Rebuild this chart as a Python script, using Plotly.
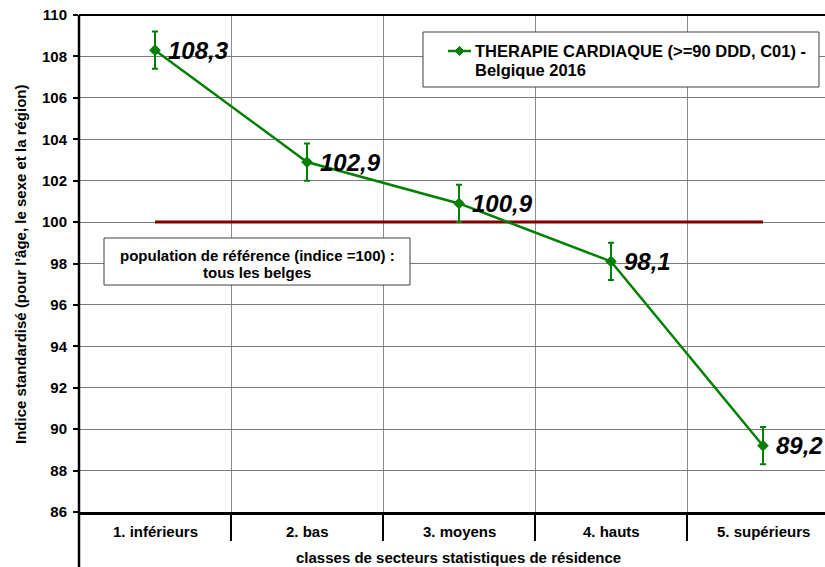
import plotly.graph_objects as go

categories = ["1. inférieurs", "2. bas", "3. moyens", "4. hauts", "5. supérieurs"]
values = [108.3, 102.9, 100.9, 98.1, 89.2]
errors = [0.9, 0.9, 0.9, 0.9, 0.9]
value_labels = ["108,3", "102,9", "100,9", "98,1", "89,2"]
reference_value = 100
y_ticks = list(range(86, 111, 2))
series_name_line1 = "THERAPIE CARDIAQUE (>=90 DDD, C01) -"
series_name_line2 = "Belgique 2016"
ref_text_line1 = "population de référence (indice =100) :"
ref_text_line2 = "tous les belges"
x_title = "classes de secteurs statistiques de résidence"
y_title = "Indice standardisé (pour l'âge, le sexe et la région)"

W, H = 825, 567
L, T, R_EDGE, B_EDGE = 79, 15, 825, 512
PW, PH = R_EDGE - L, B_EDGE - T
CAT_W = 152.0

def px(x):
    return (x - L) / PW

def py(y):
    return (B_EDGE - y) / PH

GREEN = "#008000"
FONT = "Liberation Sans, Arial, sans-serif"

xs = list(range(len(categories)))

fig = go.Figure()
fig.add_trace(go.Scatter(
    x=[xs[0], xs[-1]], y=[reference_value, reference_value],
    mode="lines", line=dict(color="#800000", width=3),
    hoverinfo="skip", showlegend=False))
fig.add_trace(go.Scatter(
    x=xs, y=values, mode="lines+markers",
    line=dict(color=GREEN, width=2.5),
    marker=dict(symbol="diamond", size=9, color=GREEN),
    error_y=dict(type="data", array=errors, visible=True, color=GREEN, thickness=2, width=3),
    name=series_name_line1 + " " + series_name_line2, showlegend=False))

anns = []
for i, (v, lab) in enumerate(zip(values, value_labels)):
    anns.append(dict(x=i, y=v, xref="x", yref="y", text=lab, showarrow=False,
                     xanchor="left", yanchor="middle", xshift=11,
                     font=dict(family=FONT, size=24, color="black", weight="bold", style="italic")))
for i, c in enumerate(categories):
    anns.append(dict(x=i, y=py(531), xref="x", yref="paper", text=c, showarrow=False,
                     xanchor="center", yanchor="middle",
                     font=dict(family=FONT, size=15, color="black", weight="bold")))
anns.append(dict(x=px(458), y=py(557), xref="paper", yref="paper", text=x_title, showarrow=False,
                 xanchor="center", yanchor="middle",
                 font=dict(family=FONT, size=15, color="black", weight="bold")))
anns.append(dict(x=px(20), y=py(264), xref="paper", yref="paper", text=y_title, showarrow=False,
                 textangle=-90, xanchor="center", yanchor="middle",
                 font=dict(family=FONT, size=15, color="black", weight="bold")))
# legend text
anns.append(dict(x=px(473), y=py(51), xref="paper", yref="paper", text=series_name_line1, showarrow=False,
                 xanchor="left", yanchor="middle",
                 font=dict(family=FONT, size=16.5, color="black", weight="bold")))
anns.append(dict(x=px(473), y=py(70), xref="paper", yref="paper", text=series_name_line2, showarrow=False,
                 xanchor="left", yanchor="middle",
                 font=dict(family=FONT, size=16.5, color="black", weight="bold")))
# reference box text
anns.append(dict(x=px(257), y=py(255), xref="paper", yref="paper", text=ref_text_line1, showarrow=False,
                 xanchor="center", yanchor="middle",
                 font=dict(family=FONT, size=15, color="black", weight="bold")))
anns.append(dict(x=px(257), y=py(272), xref="paper", yref="paper", text=ref_text_line2, showarrow=False,
                 xanchor="center", yanchor="middle",
                 font=dict(family=FONT, size=15, color="black", weight="bold")))

shapes = [
    # y axis line extended below
    dict(type="line", xref="paper", yref="paper", x0=0, x1=0, y0=py(567), y1=1,
         line=dict(color="black", width=2.5)),
    # top line
    dict(type="line", xref="paper", yref="paper", x0=0, x1=1, y0=1, y1=1,
         line=dict(color="black", width=2)),
    # legend box
    dict(type="rect", xref="paper", yref="paper", x0=px(423), x1=px(819), y0=py(87), y1=py(32),
         line=dict(color="#404040", width=1), fillcolor="white", layer="above"),
    dict(type="line", xref="paper", yref="paper", x0=px(448), x1=px(471), y0=py(51), y1=py(51),
         line=dict(color=GREEN, width=2.5), layer="above"),
    dict(type="path", xref="paper", yref="paper",
         path="M {a},{b} L {c},{d} L {e},{b} L {c},{f} Z".format(
             a=px(455), b=py(51), c=px(459.5), d=py(46.5), e=px(464), f=py(55.5)),
         line=dict(color=GREEN, width=1), fillcolor=GREEN, layer="above"),
    # reference box
    dict(type="rect", xref="paper", yref="paper", x0=px(104), x1=px(410), y0=py(285), y1=py(238),
         line=dict(color="#404040", width=1), fillcolor="white", layer="above"),
]

fig.update_layout(
    width=W, height=H,
    margin=dict(l=L, r=W - R_EDGE, t=T, b=H - B_EDGE, pad=0),
    paper_bgcolor="white", plot_bgcolor="white",
    showlegend=False,
    annotations=anns, shapes=shapes,
    font=dict(family=FONT, color="black"),
)
fig.update_xaxes(
    range=[-0.5, -0.5 + PW / CAT_W],
    tickvals=[0.5, 1.5, 2.5, 3.5], showticklabels=False,
    ticks="outside", ticklen=26, tickwidth=2, tickcolor="black",
    showgrid=True, gridcolor="#8c8c8c", gridwidth=1,
    showline=True, linecolor="black", linewidth=2.5,
    zeroline=False, fixedrange=True)
fig.update_yaxes(
    range=[86, 110], tickvals=y_ticks,
    ticks="outside", ticklen=5, tickwidth=1.5, tickcolor="black",
    ticklabelstandoff=3,
    tickfont=dict(family=FONT, size=15, color="black", weight="bold"),
    showgrid=True, gridcolor="#7a7a7a", gridwidth=1,
    showline=False, zeroline=False, fixedrange=True)

fig.write_html("out.html", config={"displayModeBar": False},
               post_script="document.body.style.margin='0';document.body.style.overflow='hidden';")
